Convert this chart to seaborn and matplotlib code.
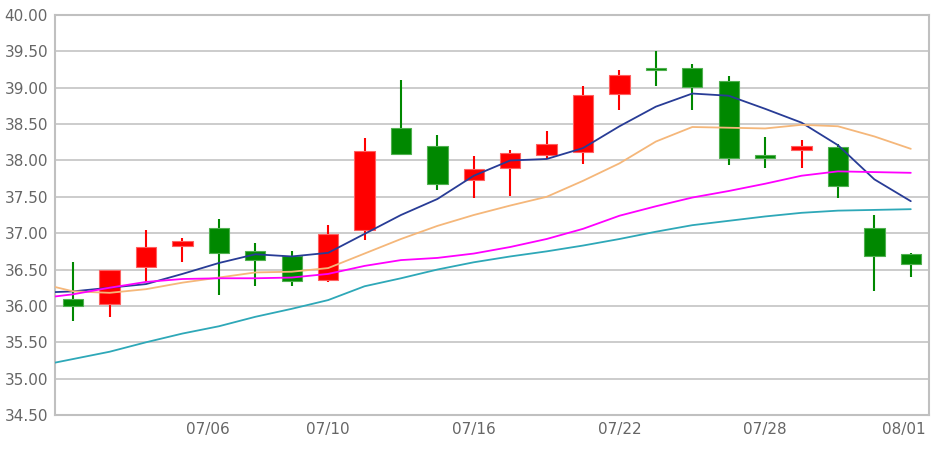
import numpy as np
import pandas as pd
import seaborn as sns
import matplotlib.pyplot as plt

# --- daily candles
opens  = [36.09, 36.03, 36.53, 36.82, 37.07, 36.76, 36.69, 36.36, 37.05, 38.45, 38.20, 37.73,
          37.89, 38.07, 38.11, 38.92, 39.27, 39.27, 39.09, 38.07, 38.14, 38.19, 37.07, 36.71]
closes = [36.00, 36.50, 36.81, 36.89, 36.73, 36.63, 36.34, 36.99, 38.13, 38.09, 37.67, 37.88,
          38.10, 38.23, 38.90, 39.17, 39.24, 39.01, 38.04, 38.04, 38.20, 37.65, 36.68, 36.58]
highs  = [36.60, 36.50, 37.04, 36.93, 37.20, 36.86, 36.75, 37.11, 38.31, 39.11, 38.35, 38.06,
          38.15, 38.41, 39.03, 39.25, 39.50, 39.33, 39.16, 38.32, 38.28, 38.22, 37.25, 36.73]
lows   = [35.79, 35.85, 36.33, 36.61, 36.15, 36.28, 36.27, 36.33, 36.91, 38.07, 37.59, 37.49,
          37.51, 38.02, 37.95, 38.70, 39.03, 38.69, 37.94, 37.90, 37.90, 37.49, 36.20, 36.40]

# --- moving averages (first value is the day before the window, clipped at the edge)
ma5  = [36.18, 36.20, 36.25, 36.30, 36.44, 36.59, 36.71, 36.68, 36.73, 36.99, 37.25, 37.47, 37.79,
        38.00, 38.02, 38.17, 38.47, 38.74, 38.92, 38.89, 38.71, 38.52, 38.21, 37.74, 37.44]
ma10 = [36.32, 36.20, 36.18, 36.23, 36.32, 36.39, 36.46, 36.47, 36.52, 36.72, 36.92, 37.10, 37.25,
        37.38, 37.50, 37.72, 37.96, 38.26, 38.46, 38.45, 38.44, 38.49, 38.47, 38.33, 38.16]
ma20 = [36.10, 36.16, 36.25, 36.33, 36.37, 36.38, 36.38, 36.39, 36.44, 36.55, 36.63, 36.66, 36.72,
        36.81, 36.92, 37.06, 37.24, 37.37, 37.49, 37.58, 37.68, 37.79, 37.85, 37.84, 37.83]
ma60 = [35.17, 35.27, 35.37, 35.50, 35.62, 35.72, 35.85, 35.96, 36.08, 36.27, 36.38, 36.50, 36.60,
        36.68, 36.75, 36.83, 36.92, 37.02, 37.11, 37.17, 37.23, 37.28, 37.31, 37.32, 37.33]

date_labels = ['07/06', '07/10', '07/16', '07/22', '07/28', '08/01']
date_pos = [3.7, 7, 11, 15, 19, 22.8]

n = len(opens)
x = np.arange(n)
ma_x = np.arange(-1, n)
ma_df = pd.DataFrame({'x': np.tile(ma_x, 4),
                      'value': ma5 + ma10 + ma20 + ma60,
                      'line': np.repeat(['ma5', 'ma10', 'ma20', 'ma60'], len(ma_x))})

sns.set_style("white")
plt.rcParams['font.family'] = ['DejaVu Sans']

fig = plt.figure(figsize=(9.41, 4.51), dpi=100)
ax = fig.add_axes([55/941, 36/451, 874/941, 400/451])

ax.set_ylim(34.5, 40.0)
ax.set_xlim(-0.5, n - 0.5)
ax.set_yticks(np.arange(34.5, 40.01, 0.5))
ax.yaxis.set_major_formatter(plt.FormatStrFormatter('%.2f'))
ax.grid(axis='y', color='#c8c8c8', linewidth=1.3, zorder=0)
ax.set_axisbelow(True)

# --- candles: red up, green down
up = np.array(closes) >= np.array(opens)
colors = np.where(up, '#ff0000', '#008800')
edges = np.where(up, '#ff6060', '#50b050')
ax.vlines(x, lows, highs, colors=colors, linewidth=1.5, zorder=2)
bottoms = np.minimum(opens, closes)
heights = np.maximum(np.abs(np.array(closes) - np.array(opens)), 0.03)
ax.bar(x, heights, bottom=bottoms, width=0.56, color=colors, edgecolor=edges,
       linewidth=0.8, zorder=3)

# --- moving average lines
palette = {'ma5': '#283c96', 'ma10': '#f5b77a', 'ma20': '#ff00ff', 'ma60': '#2ea8b8'}
sns.lineplot(data=ma_df, x='x', y='value', hue='line', palette=palette, linewidth=1.3,
             legend=False, ax=ax, zorder=4)

ax.set_xticks(date_pos)
ax.set_xticklabels(date_labels)
ax.set_xlabel('')
ax.set_ylabel('')
ax.tick_params(axis='both', length=0, labelsize=11, labelcolor='#666666', pad=5)

for side in ['left', 'right', 'top', 'bottom']:
    ax.spines[side].set_color('#c0c0c0')
    ax.spines[side].set_linewidth(1.5)

plt.savefig('out.png', dpi=100)
